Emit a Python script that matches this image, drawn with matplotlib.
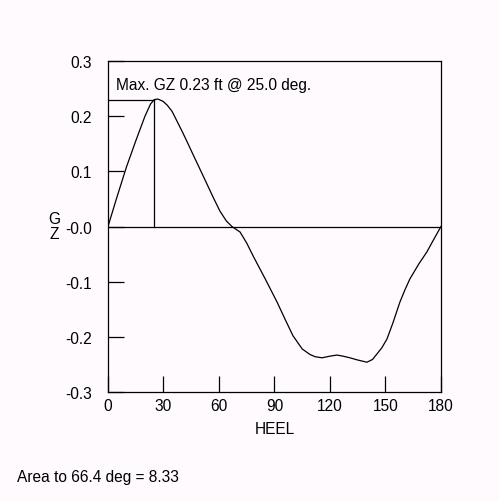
import matplotlib.pyplot as plt

# righting arm curve
heel = [0, 5, 10, 15, 20, 23, 25, 27, 29.7, 32, 34.6, 37, 40, 43, 45.9, 50, 53.5, 57,
        60.5, 64, 67, 71.4, 75, 78.4, 85, 91.4, 96, 100, 105, 109.2, 112, 115.7,
        120, 123.8, 127, 130.8, 135, 140, 143, 145.4, 148, 150.8, 154, 157.8,
        160.5, 163.2, 168, 172.4, 176, 180]
gz = [0, 0.055, 0.108, 0.155, 0.2, 0.222, 0.23, 0.231, 0.227, 0.22, 0.209, 0.193, 0.173,
      0.152, 0.131, 0.102, 0.077, 0.052, 0.028, 0.01, 0.0, -0.01, -0.03, -0.053,
      -0.095, -0.137, -0.17, -0.198, -0.222, -0.232, -0.236, -0.238, -0.235,
      -0.233, -0.235, -0.238, -0.242, -0.246, -0.241, -0.231, -0.22, -0.204,
      -0.175, -0.137, -0.115, -0.095, -0.068, -0.046, -0.024, 0]

max_gz = 0.23
max_heel = 25.0
area_heel = 66.4
area = 8.33

xticks = [0, 30, 60, 90, 120, 150, 180]
yticks = [-0.3, -0.2, -0.1, 0.0, 0.1, 0.2, 0.3]
ytick_labels = ["-0.3", "-0.2", "-0.1", "-0.0", "0.1", "0.2", "0.3"]

plt.rcParams["font.family"] = ["Liberation Sans", "DejaVu Sans"]
bg = "#fefafe"
fs = 11.2

fig = plt.figure(figsize=(4.99, 5.02), dpi=100, facecolor=bg)
ax = fig.add_axes([0.2164, 0.2171, 0.6673, 0.6594], facecolor=bg)

ax.plot(heel, gz, color="black", lw=0.9)
ax.axhline(0, color="black", lw=0.9)
ax.plot([0, max_heel], [max_gz, max_gz], color="black", lw=0.9)
ax.plot([max_heel, max_heel], [0, max_gz], color="black", lw=0.9)

ax.set_xlim(0, 180)
ax.set_ylim(-0.3, 0.3)
ax.set_xticks(xticks)
ax.set_yticks(yticks)
ax.set_yticklabels(ytick_labels)
ax.tick_params(direction="in", length=11.5, width=0.9, labelsize=fs, pad=4)
ax.tick_params(axis="y", pad=11.5)
for s in ax.spines.values():
    s.set_linewidth(0.9)

ax.text(4.5, 0.257, f"Max. GZ {max_gz:.2f} ft @ {max_heel:.1f} deg.", fontsize=fs,
        va="center", ha="left")

ax.set_xlabel("HEEL", fontsize=fs, labelpad=6)
fig.text(0.108, 0.548, "G\nZ", fontsize=fs, ha="center", va="center", linespacing=1.0)
fig.text(0.034, 0.048, f"Area to {area_heel:.1f} deg = {area:.2f}", fontsize=fs,
         ha="left", va="center")

fig.savefig("out.png", dpi=100, facecolor=bg)
